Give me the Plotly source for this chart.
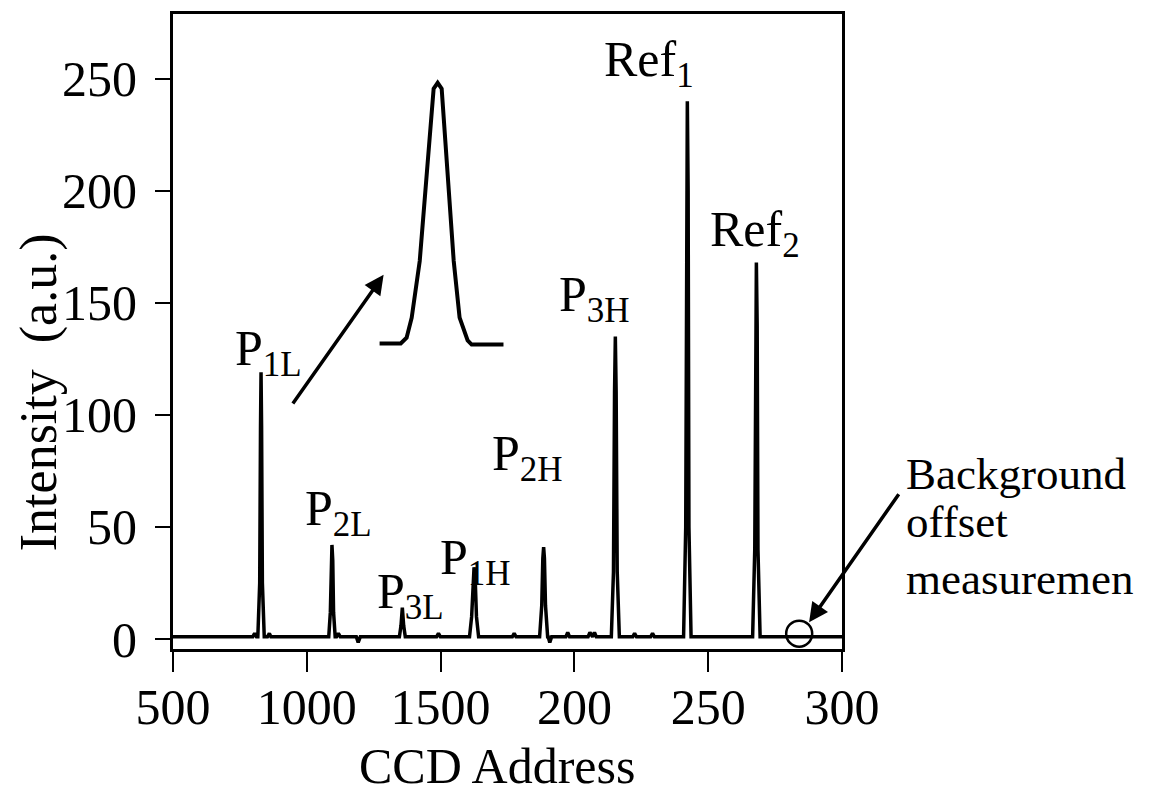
import plotly.graph_objects as go

# ---------------- data ----------------
# measured spectrum (CCD address vs intensity), read from the picture
spec_x = [500, 700, 798, 805, 812, 817, 824, 827, 829, 831, 834, 841, 853, 860, 866,
          1000, 1082, 1088, 1091, 1094, 1097, 1100, 1106, 1111, 1118, 1125, 1185, 1192, 1200,
          1346, 1352, 1357, 1362, 1368, 1485, 1492, 1499,
          1608, 1616, 1621, 1625, 1629, 1634, 1642, 1768, 1775, 1782,
          1870, 1878, 1882, 1885, 1888, 1892, 1900, 1902, 1908, 1915,
          1968, 1975, 1982, 2051, 2058, 2065, 2068, 2075, 2082,
          2138, 2146, 2150, 2153, 2156, 2160, 2168, 2218, 2225, 2232, 2285, 2292, 2299,
          2408, 2416, 2419, 2422, 2425, 2428, 2436, 2560,
          2666, 2674, 2677, 2680, 2683, 2686, 2694, 2760, 3000]
spec_y = [1, 1, 1, 2.5, 1, 1, 25, 95, 119, 95, 25, 1, 1, 2.5, 1,
          1, 1, 12, 35, 42, 35, 12, 1, 1, 2.5, 1, 1, -1.5, 1,
          1, 6, 14, 6, 1, 1, 2.5, 1,
          1, 10, 28, 32, 28, 10, 1, 1, 2.5, 1,
          1, 15, 36, 41, 36, 15, 1, 1, -1.5, 1,
          1, 3, 1, 1, 3, 1, 1, 3, 1,
          1, 30, 110, 135, 110, 30, 1, 1, 2.5, 1, 1, 2.5, 1,
          1, 50, 200, 240, 200, 50, 1, 1,
          1, 40, 140, 168, 140, 40, 1, 1, 1]

# enlarged single-peak inset (drawn in data units)
inset_x = [1272, 1351, 1373, 1392, 1422, 1474, 1489, 1504, 1549, 1571, 1601, 1616, 1735]
inset_y = [131.9, 131.9, 134.5, 143.4, 168.7, 245.6, 248.2, 245.6, 168.7, 143.4, 133.2, 131.4, 131.4]

# peak labels
peak_labels = ["P<sub>1L</sub>", "P<sub>2L</sub>", "P<sub>3L</sub>", "P<sub>1H</sub>",
               "P<sub>2H</sub>", "P<sub>3H</sub>", "Ref<sub>1</sub>", "Ref<sub>2</sub>"]
label_x = [725, 985, 1255, 1490, 1684, 1935, 2103, 2500]
label_y = [113.0, 41.5, 4.5, 19.5, 66.0, 137.0, 242.0, 166.0]

# background offset marker
bg_x = [2840]
bg_y = [2.4]

# axis ticks
x_tickvals = [500, 1000, 1500, 2000, 2500, 3000]
x_ticktext = ["500", "1000", "1500", "200", "250", "300"]
y_tickvals = [0, 50, 100, 150, 200, 250]

FONT = "Liberation Serif, Times New Roman, serif"

L, T, PW, PH = 165, 3, 669, 638

fig = go.Figure()
fig.add_trace(go.Scatter(x=spec_x, y=spec_y, mode="lines",
                         line=dict(color="black", width=3.5), showlegend=False))
fig.add_trace(go.Scatter(x=inset_x, y=inset_y, mode="lines",
                         line=dict(color="black", width=4), showlegend=False))
fig.add_trace(go.Scatter(x=bg_x, y=bg_y, mode="markers",
                         marker=dict(symbol="circle-open", size=26, color="black",
                                     line=dict(width=2.5, color="black")),
                         showlegend=False, cliponaxis=False))

for t, lx, ly in zip(peak_labels, label_x, label_y):
    fig.add_annotation(x=lx, y=ly, xref="x", yref="y", text=t, showarrow=False,
                       xanchor="left", yanchor="bottom",
                       font=dict(family=FONT, size=50, color="black"))

# arrow to inset
fig.add_annotation(x=1287, y=162.5, ax=944, ay=104.4, xref="x", yref="y",
                   axref="x", ayref="y", text="", showarrow=True,
                   arrowhead=2, arrowsize=1.1, arrowwidth=3.5, arrowcolor="black")
# arrow to background circle
fig.add_annotation(x=2877, y=7.5, ax=3216, ay=65.3, xref="x", yref="y",
                   axref="x", ayref="y", text="", showarrow=True,
                   arrowhead=2, arrowsize=1.1, arrowwidth=3.5, arrowcolor="black")


def px2paper(px, py):
    return (px - 171) / PW, (650 - py) / PH


for txt, yy in zip(["Background", "offset", "measuremen"], [474, 522, 580]):
    xx, yp = px2paper(902, yy)
    fig.add_annotation(x=xx, y=yp, xref="paper", yref="paper",
                       text=txt, showarrow=False, xanchor="left", yanchor="middle",
                       font=dict(family=FONT, size=45, color="black"))

# axis titles
xx, yp = px2paper(495, 768)
fig.add_annotation(x=xx, y=yp, xref="paper", yref="paper",
                   text="CCD Address", showarrow=False, xanchor="center", yanchor="middle",
                   font=dict(family=FONT, size=50, color="black"))
xx, yp = px2paper(37, 392)
fig.add_annotation(x=xx, y=yp, xref="paper", yref="paper",
                   text="Intensity  (a.u.)", showarrow=False, textangle=-90,
                   xanchor="center", yanchor="middle",
                   font=dict(family=FONT, size=52, color="black"))

fig.update_xaxes(range=[500, 3000], tickvals=x_tickvals, ticktext=x_ticktext,
                 showgrid=False, zeroline=False, showline=True, linecolor="black",
                 linewidth=3, mirror=True, ticks="outside", ticklen=20, tickwidth=2,
                 tickcolor="black", ticklabelstandoff=-8,
                 tickfont=dict(family=FONT, size=50, color="black"))
fig.update_yaxes(range=[-4.44, 278.9], tickvals=y_tickvals,
                 showgrid=False, zeroline=False, showline=True, linecolor="black",
                 linewidth=3, mirror=True, ticks="outside", ticklen=15, tickwidth=2,
                 tickcolor="black", ticklabelstandoff=8,
                 tickfont=dict(family=FONT, size=50, color="black"))

fig.update_layout(width=1158, height=796, paper_bgcolor="white", plot_bgcolor="white",
                  margin=dict(l=L, r=1158 - L - PW, t=T, b=796 - T - PH), showlegend=False)

fig.write_html("out.html")
